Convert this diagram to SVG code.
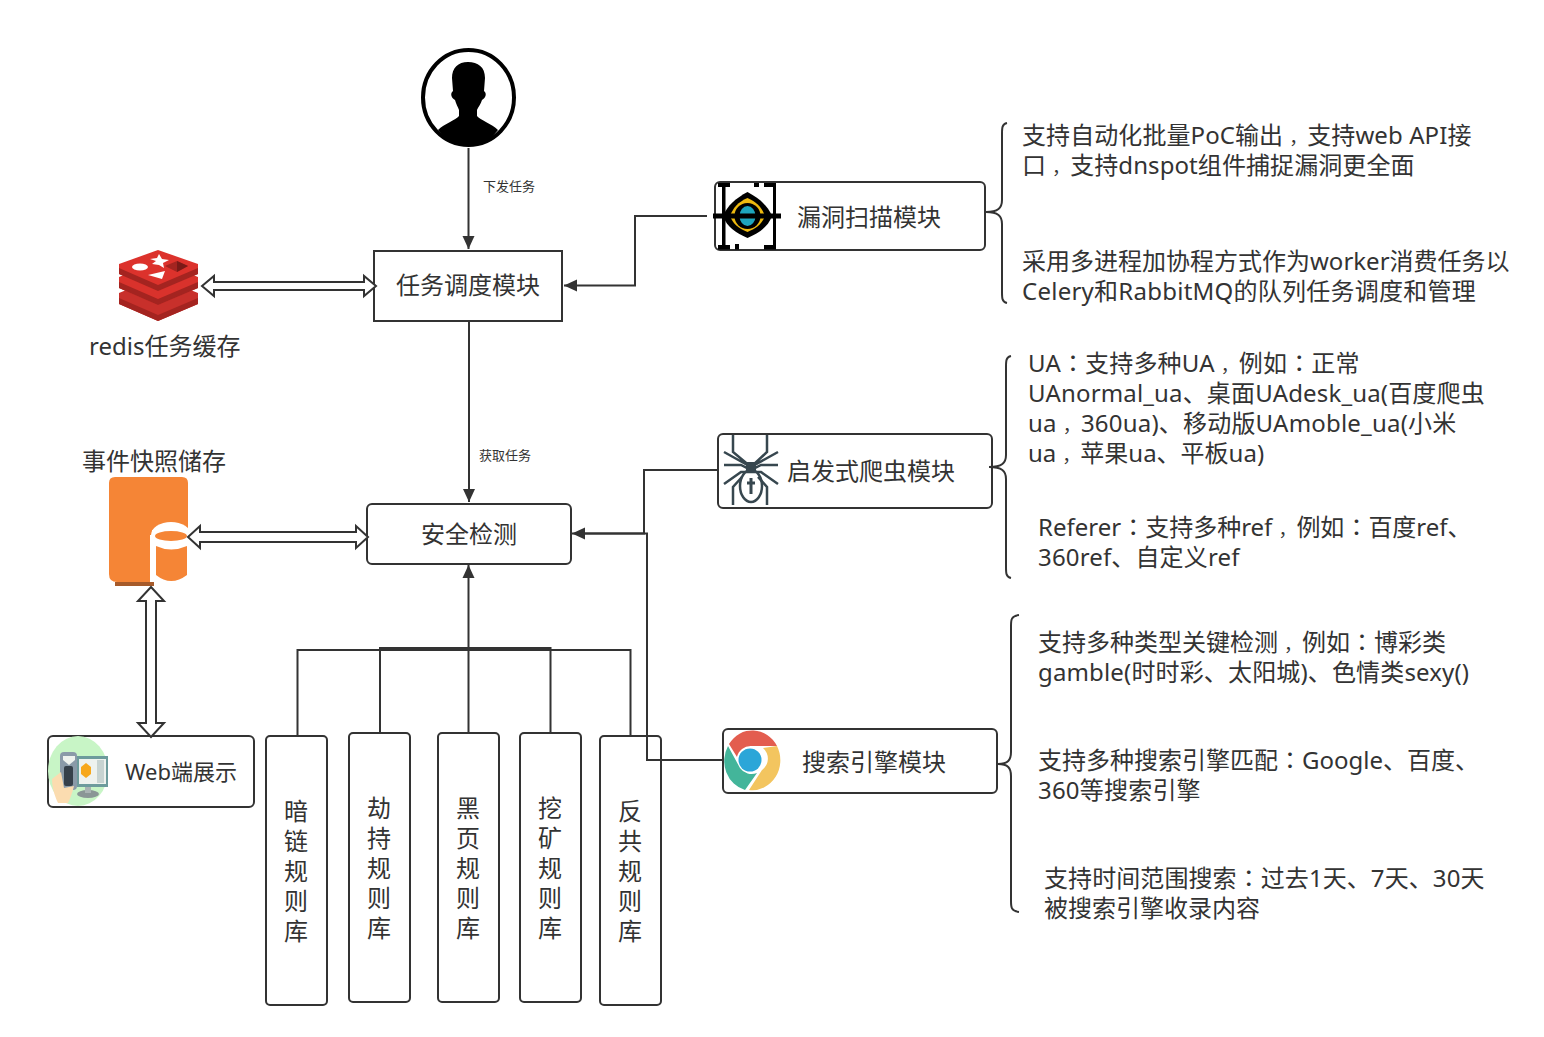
<svg xmlns="http://www.w3.org/2000/svg" width="1544" height="1037" viewBox="0 0 1544 1037">
<style>
text{font-family:"Open Sans","Noto Sans CJK SC",sans-serif;fill:#333;font-size:24px}
.t{font-family:"Noto Sans","Noto Sans CJK SC",sans-serif;font-size:24px}
.q{font-size:18px}
.p{font-family:"Noto Sans CJK TC",sans-serif}
.s{font-size:13px}
.b{fill:#fff;stroke:#333;stroke-width:2}
.c{fill:none;stroke:#333;stroke-width:2}
.d{fill:#fff;stroke:#333;stroke-width:2;stroke-linejoin:miter}
.m{text-anchor:middle}
</style>
<defs>
<marker id="a" markerUnits="userSpaceOnUse" markerWidth="14" markerHeight="14" refX="13" refY="7" orient="auto"><path d="M0 1L13 7L0 13Z" fill="#333"/></marker>
</defs>
<rect width="1544" height="1037" fill="#fff"/>
<g id="user">
<ellipse cx="468.500" cy="97.500" rx="45.500" ry="47.500" fill="#fff" stroke="#000" stroke-width="4"/>
<path d="M452 78C452 68 458 62 468 62C478 62 485 67 485 78L484 91C487 93 486 98 482 100C481 104 478 107 477 110V116C480 120 492 124 498 130C490 141 480 146 468 146C456 146 446 141 438 130C444 124 456 120 459 116V110C458 107 456 104 455 100C451 98 450 93 453 91Z" fill="#000"/>
</g>
<g id="scheduler">
<rect class="b" x="374" y="251" width="188" height="70"/>
<text class="t m" x="468" y="294">任务调度模块</text>
</g>
<g id="redis">
<path d="M119 293L158 277L198 293V304L158 321L119 304Z" fill="#c8302b"/>
<path d="M119 298L158 315L198 298V304L158 321L119 304Z" fill="#a42420"/>
<path d="M119 277L158 261L198 277V288L158 305L119 288Z" fill="#d9322c"/>
<path d="M119 282L158 299L198 282V288L158 305L119 288Z" fill="#a42420"/>
<path d="M119 264L158 250L198 264V274L158 291L119 274Z" fill="#dc322c"/>
<path d="M119 268L158 285L198 268V274L158 291L119 274Z" fill="#a42420"/>
<ellipse cx="140" cy="267" rx="8" ry="3.500" fill="#fff"/>
<path d="M159 254L162 259L169 260L163 263L164 268L159 265L152 264L156 261L150 259L157 258Z" fill="#fff"/>
<path d="M148 275L165 271L162 279Z" fill="#fff"/>
<path d="M165 266L177 261L188 266L177 272Z" fill="#a42420"/>
<path d="M177 261L188 266L177 272Z" fill="#7a1a17"/>
<text class="t" x="89" y="355">redis任务缓存</text>
</g>
<g id="vuln-scan">
<rect class="b" x="715" y="182" width="270" height="68" rx="5"/>
<path d="M722 183H725.500V249H722ZM773 183H776V249H773ZM718 183H730V187H718ZM764 183H776V187H764ZM718 245H730V249.500H718ZM764 245H776V249.500H764ZM754 183H759V187H754ZM735 244H739V249.500H735Z" fill="#000"/>
<path d="M747.500 192C759 198 768 206 772 216C768 227 759 233 747.500 238C736 233 727 227 723 216C727 206 736 198 747.500 192Z" fill="#000"/>
<path d="M747.500 198C757 202 762 208 765 216C762 224 757 228 747.500 232C738 228 733 224 730 216C733 208 738 202 747.500 198Z" fill="#edb90f"/>
<circle cx="747.500" cy="216" r="13" fill="#000"/>
<ellipse cx="747.500" cy="216" rx="8" ry="10" fill="#1ea5bd"/>
<rect x="713" y="213.500" width="68" height="5" fill="#000"/>
<text class="t" x="797" y="226">漏洞扫描模块</text>
</g>
<g id="spider-module">
<rect class="b" x="718" y="434" width="274" height="74" rx="5"/>
<g fill="none" stroke="#37474f" stroke-width="2.500">
<path d="M733 435V452L751 467L724 452M767 435V452L751 467L778 452"/>
<path d="M724 465H741L751 470L761 465H778"/>
<path d="M724 484L741 472H761L778 484"/>
<path d="M733 505V487L742 477M767 505V487L758 477"/>
<ellipse cx="751" cy="486" rx="11" ry="16"/>
<path d="M751 478V494M747 483H755" stroke-width="3"/>
</g>
<rect x="746" y="462" width="10" height="9" fill="#37474f"/>
<text class="t" x="787" y="480">启发式爬虫模块</text>
</g>
<g id="security-check">
<rect class="b" x="367" y="504" width="204" height="60" rx="5"/>
<text class="t m" x="469" y="543">安全检测</text>
</g>
<g id="snapshot">
<text class="t" x="82" y="470">事件快照储存</text>
<path d="M115 477H182Q188 477 188 483V530H152V582H117Q109 582 109 574V483Q109 477 115 477Z" fill="#f58536"/>
<ellipse cx="171" cy="535" rx="20" ry="13" fill="#fff"/>
<rect x="150" y="535" width="41" height="55" fill="#fff"/>
<rect x="115" y="582" width="39" height="4" fill="#a65a2a"/>
<path d="M156 546Q171 553 187 546V575Q171 587 156 575Z" fill="#f58536"/>
<ellipse cx="171" cy="536" rx="16" ry="5" fill="#f58536"/>
</g>
<g id="web">
<rect class="b" x="48" y="736" width="206" height="71" rx="5"/>
<ellipse cx="78" cy="771" rx="30" ry="35" fill="#c8f5c6"/>
<ellipse cx="88" cy="794" rx="11" ry="4" fill="#8a9696"/>
<rect x="85" y="786" width="6" height="7" fill="#a9b3b3"/>
<rect x="77" y="756" width="31" height="31" fill="#6d9b9c"/>
<rect x="79" y="759" width="27" height="25" fill="#eef2ee"/>
<path d="M81 767l5-4l5 4v7l-5 4l-5-4Z" fill="#f7a81b"/>
<rect x="97" y="760" width="7" height="23" fill="#c7d3d1"/>
<rect x="60" y="752" width="17" height="38" rx="4" fill="#8a9aa8"/>
<path d="M63 756H75V760L69 765L63 760Z" fill="#eef2ee"/>
<rect x="64" y="766" width="9" height="20" rx="2" fill="#36404a"/>
<path d="M52 779L61 772L64 788L74 786C72 794 70 799 68 803L58 803C54 795 52 786 52 779Z" fill="#fbdcb0"/>
<text class="t" style="font-size:22px" x="125" y="780">Web端展示</text>
</g>
<g id="rule-dark"><rect class="b" x="266" y="736" width="61" height="269" rx="4"/><text class="t m" x="296" y="820">暗</text><text class="t m" x="296" y="850">链</text><text class="t m" x="296" y="880">规</text><text class="t m" x="296" y="910">则</text><text class="t m" x="296" y="940">库</text></g>
<g id="rule-hijack"><rect class="b" x="349" y="733" width="61" height="269" rx="4"/><text class="t m" x="379" y="817">劫</text><text class="t m" x="379" y="847">持</text><text class="t m" x="379" y="877">规</text><text class="t m" x="379" y="907">则</text><text class="t m" x="379" y="937">库</text></g>
<g id="rule-black"><rect class="b" x="438" y="733" width="61" height="269" rx="4"/><text class="t m" x="468" y="817">黑</text><text class="t m" x="468" y="847">页</text><text class="t m" x="468" y="877">规</text><text class="t m" x="468" y="907">则</text><text class="t m" x="468" y="937">库</text></g>
<g id="rule-mine"><rect class="b" x="520" y="733" width="61" height="269" rx="4"/><text class="t m" x="550" y="817">挖</text><text class="t m" x="550" y="847">矿</text><text class="t m" x="550" y="877">规</text><text class="t m" x="550" y="907">则</text><text class="t m" x="550" y="937">库</text></g>
<g id="rule-anti"><rect class="b" x="600" y="736" width="61" height="269" rx="4"/><text class="t m" x="630" y="820">反</text><text class="t m" x="630" y="850">共</text><text class="t m" x="630" y="880">规</text><text class="t m" x="630" y="910">则</text><text class="t m" x="630" y="940">库</text></g>
<g id="search-module">
<rect class="b" x="723" y="729" width="274" height="64" rx="5"/>
<path d="M729 744A28 30 0 0 1 777 746L751 746A14 14 0 0 0 737 757Z" fill="#e35d4f"/>
<path d="M777 746A28 30 0 0 1 749 790L762 770A14 14 0 0 0 763 748Z" fill="#f3c55f"/>
<path d="M728 746L740 768A14 14 0 0 0 757 773L745 790A28 30 0 0 1 728 746Z" fill="#43b59a"/>
<circle cx="750" cy="760" r="11.500" fill="#2ba6d8"/>
<text class="t" x="802" y="771">搜索引擎模块</text>
</g>
<g id="connectors">
<path class="c" d="M468.500 148V249" marker-end="url(#a)"/>
<path class="c" d="M469 321V502" marker-end="url(#a)"/>
<path class="c" d="M707 216H635V285.500H564" marker-end="url(#a)"/>
<path class="c" d="M718 470H644V533.500H572" marker-end="url(#a)"/>
<path class="c" d="M723 760H647V533.500H580"/>
<path class="c" d="M468.500 733V565" marker-end="url(#a)"/>
<path class="c" d="M297.500 736V650H468.500"/>
<path class="c" d="M380 733V648H550.500V733"/>
<path class="c" d="M468 650H630.500V736"/>
<path class="d" d="M202 286L214 276V282H364V276L376 286L364 296V290H214V296Z"/>
<path class="d" d="M188 537L200 526V532H356V526L368 537L356 548V542H200V548Z"/>
<path class="d" d="M151 587L164 601H156V723H164L151 737L138 723H146V601H138Z"/>
<path class="c" d="M1007 123C1002 124 1002 128 1002 134V200C1002 208 998 212 986 212C998 212 1002 216 1002 224V292C1002 298 1002 302 1007 303"/>
<path class="c" d="M1011 356C1006 357 1006 361 1006 367V455C1006 463 1002 467 989 467C1002 467 1006 471 1006 479V567C1006 573 1006 577 1011 578"/>
<path class="c" d="M1019 615C1011 616 1011 620 1011 626V752C1011 760 1008 764 998 764C1008 764 1011 768 1011 776V901C1011 907 1011 911 1019 912"/>
<text class="s" x="483" y="191">下发任务</text>
<text class="s" x="479" y="460">获取任务</text>
</g>
<g id="notes">
<text class="t" x="1022" y="144" style="letter-spacing:.08px">支持自动化批量PoC输出<tspan class="q" dx="6">，</tspan>支持web API接</text>
<text class="t" x="1022" y="174" style="letter-spacing:.08px">口<tspan class="q" dx="6">，</tspan>支持dnspot组件捕捉漏洞更全面</text>
<text class="t" x="1022" y="270">采用多进程加协程方式作为worker消费任务以</text>
<text class="t" x="1022" y="300" style="letter-spacing:.25px">Celery和RabbitMQ的队列任务调度和管理</text>
<text class="t" x="1028" y="372" style="letter-spacing:.15px">UA<tspan class="p">：</tspan>支持多种UA<tspan class="q" dx="6">，</tspan>例如<tspan class="p">：</tspan>正常</text>
<text class="t" x="1028" y="402" style="letter-spacing:.16px">UAnormal_ua、桌面UAdesk_ua(百度爬虫</text>
<text class="t" x="1028" y="432" style="letter-spacing:.2px">ua<tspan class="q" dx="6">，</tspan>360ua)、移动版UAmoble_ua(小米</text>
<text class="t" x="1028" y="462">ua<tspan class="q" dx="6">，</tspan>苹果ua、平板ua)</text>
<text class="t" x="1038" y="536">Referer<tspan class="p">：</tspan>支持多种ref<tspan class="q" dx="6">，</tspan>例如<tspan class="p">：</tspan>百度ref、</text>
<text class="t" x="1038" y="566" style="letter-spacing:.15px">360ref、自定义ref</text>
<text class="t" x="1038" y="651">支持多种类型关键检测<tspan class="q" dx="6">，</tspan>例如<tspan class="p">：</tspan>博彩类</text>
<text class="t" x="1038" y="681" style="letter-spacing:.15px">gamble(时时彩、太阳城)、色情类sexy()</text>
<text class="t" x="1038" y="769">支持多种搜索引擎匹配<tspan class="p">：</tspan>Google、百度、</text>
<text class="t" x="1038" y="799" style="letter-spacing:.2px">360等搜索引擎</text>
<text class="t" x="1044" y="887" style="letter-spacing:.08px">支持时间范围搜索<tspan class="p">：</tspan>过去1天、7天、30天</text>
<text class="t" x="1044" y="917">被搜索引擎收录内容</text>
</g>
</svg>
